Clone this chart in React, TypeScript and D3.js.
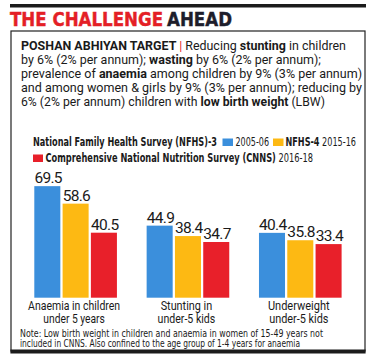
import React from "react";
import * as d3 from "d3";

const categories = [
  ["Anaemia in children", "under 5 years"],
  ["Stunting in", "under-5 kids"],
  ["Underweight", "under-5 kids"],
];
const seriesNames = ["NFHS-3 2005-06", "NFHS-4 2015-16", "CNNS 2016-18"];
const nfhs3 = [69.5, 44.9, 40.4];
const nfhs4 = [58.6, 38.4, 35.8];
const cnns = [40.5, 34.7, 33.4];
const seriesValues = [nfhs3, nfhs4, cnns];
const colors = ["#3b8fdc", "#fdb913", "#e8202a"];

const NARROW = "'Liberation Sans Narrow', 'DejaVu Sans Condensed', sans-serif";
const BODY = "Roboto, 'DejaVu Sans Condensed', sans-serif";

const catWidths = [
  [92, 61.6],
  [51.6, 57.7],
  [61.7, 59.3],
];

export default function App() {
  const W = 372;
  const H = 359;
  const x0 = d3
    .scaleBand<number>()
    .domain([0, 1, 2])
    .range([34.3, 341.6])
    .paddingInner(0.2645)
    .paddingOuter(0);
  const x1 = d3
    .scaleBand<number>()
    .domain([0, 1, 2])
    .range([0, x0.bandwidth()])
    .paddingInner(0.08);
  const y = d3.scaleLinear().domain([0, 70]).range([297.7, 297.7 - 70 * 1.605]);

  const para: { parts: [string, boolean][]; len: number }[] = [
    {
      parts: [
        ["POSHAN ABHIYAN TARGET ", true],
        ["| ", false],
        ["Reducing ", false],
        ["stunting", true],
        [" in children", false],
      ],
      len: 325,
    },
    {
      parts: [
        ["by 6% (2% per annum); ", false],
        ["wasting", true],
        [" by 6% (2% per annum);", false],
      ],
      len: 300,
    },
    {
      parts: [
        ["prevalence of ", false],
        ["anaemia", true],
        [" among children by 9% (3% per annum)", false],
      ],
      len: 341,
    },
    {
      parts: [["and among women & girls by 9% (3% per annum); reducing by", false]],
      len: 341,
    },
    {
      parts: [
        ["6% (2% per annum) children with ", false],
        ["low birth weight", true],
        [" (LBW)", false],
      ],
      len: 304,
    },
  ];

  return (
    <svg width={W} height={H} style={{ display: "block", position: "absolute", left: 0, top: 0 }}>
      <rect x={0} y={0} width={W} height={H} fill="#fff" />
      {/* top rule */}
      <rect x={10} y={4} width={356} height={3.5} fill="#1b1b1b" />
      {/* title */}
      <text
        x={10}
        y={26}
        fontFamily={NARROW}
        fontWeight="bold"
        fontSize={20}
        fill="#e41f26"
        stroke="#e41f26"
        strokeWidth={0.4}
        textLength={153}
        lengthAdjust="spacingAndGlyphs"
      >
        THE CHALLENGE
      </text>
      <text
        x={167}
        y={26}
        fontFamily={NARROW}
        fontWeight="bold"
        fontSize={20}
        fill="#1d1d2b"
        stroke="#1d1d2b"
        strokeWidth={0.4}
        textLength={65}
        lengthAdjust="spacingAndGlyphs"
      >
        AHEAD
      </text>
      {/* box */}
      <rect x={11} y={31} width={354} height={320} fill="none" stroke="#222" strokeWidth={1.2} />
      <rect x={10.4} y={349.5} width={355.2} height={4} fill="#1b1b1b" />

      {/* paragraph */}
      {para.map((line, i) => (
        <text
          key={i}
          x={21}
          y={49.5 + i * 14.2}
          fontFamily={BODY}
          fontSize={13}
          fill="#1a1a1a"
          textLength={line.len}
          lengthAdjust="spacingAndGlyphs"
        >
          {line.parts.map(([t, b], j) => (
            <tspan
              key={j}
              fontWeight={b ? "bold" : "normal"}
              fill={t === "| " ? "#e41f26" : "#1a1a1a"}
            >
              {t}
            </tspan>
          ))}
        </text>
      ))}

      {/* legend */}
      <g fontFamily={NARROW} fontSize={11.5} fill="#1a1a1a">
        <text x={33} y={146} fontWeight="bold" textLength={184} lengthAdjust="spacingAndGlyphs">
          National Family Health Survey (NFHS)-3
        </text>
        <rect x={222.5} y={138.5} width={10.5} height={7.5} fill={colors[0]} />
        <text x={235.5} y={146} textLength={33.5} lengthAdjust="spacingAndGlyphs">
          2005-06
        </text>
        <rect x={273} y={138.5} width={10.5} height={7.5} fill={colors[1]} />
        <text x={285.5} y={146} textLength={70.5} lengthAdjust="spacingAndGlyphs">
          <tspan fontWeight="bold">NFHS-4</tspan>
          <tspan> 2015-16</tspan>
        </text>
        <rect x={33} y={154.5} width={10} height={7.5} fill={colors[2]} />
        <text x={45.5} y={162} textLength={267.5} lengthAdjust="spacingAndGlyphs">
          <tspan fontWeight="bold">Comprehensive National Nutrition Survey (CNNS)</tspan>
          <tspan> 2016-18</tspan>
        </text>
      </g>

      {/* bars */}
      {categories.map((cat, ci) => (
        <g key={ci} transform={`translate(${x0(ci)},0)`}>
          {seriesValues.map((vals, si) => {
            const v = vals[ci];
            const bx = x1(si)!;
            const bw = x1.bandwidth();
            return (
              <g key={si}>
                <rect x={bx} y={y(v)} width={bw} height={y(0) - y(v)} fill={colors[si]} />
                <text
                  x={bx + bw / 2 + 0.8}
                  y={y(v) - 3}
                  textAnchor="middle"
                  fontFamily="Roboto, sans-serif"
                  fontSize={15.5}
                  letterSpacing={-0.7}
                  fill="#1a1a1a"
                >
                  {v.toFixed(1)}
                </text>
              </g>
            );
          })}
          {cat.map((lbl, li) => (
            <text
              key={li}
              x={x0.bandwidth() / 2 - 1.5 - catWidths[ci][li] / 2}
              y={309.5 + li * 13.5}
              fontFamily={BODY}
              fontSize={13}
              fill="#1a1a1a"
              textLength={catWidths[ci][li]}
              lengthAdjust="spacingAndGlyphs"
            >
              {lbl}
            </text>
          ))}
        </g>
      ))}

      {/* note */}
      <g fontFamily={NARROW} fontSize={10.5} fill="#1a1a1a">
        <text x={20} y={337} textLength={303} lengthAdjust="spacingAndGlyphs">
          Note: Low birth weight in children and anaemia in women of 15-49 years not
        </text>
        <text x={20} y={346.5} textLength={280} lengthAdjust="spacingAndGlyphs">
          included in CNNS. Also confined to the age group of 1-4 years for anaemia
        </text>
      </g>
    </svg>
  );
}
